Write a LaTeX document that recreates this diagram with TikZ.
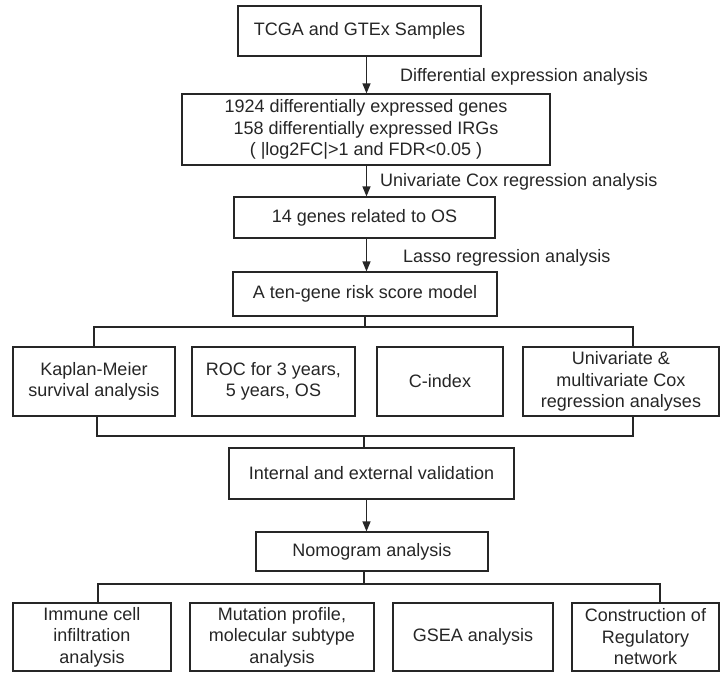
\documentclass[tikz,border=0pt]{standalone}
\usepackage{fontspec}
\setmainfont{Liberation Sans}
\usetikzlibrary{arrows.meta}
\begin{document}
\begin{tikzpicture}[x=1pt,y=-1pt,
  every node/.style={font=\fontsize{18}{21.5}\selectfont, text=black!85},
  box/.style={draw=black!85, line width=1.2pt, fill=white, inner sep=0pt, align=center},
  lab/.style={anchor=west, inner sep=0pt},
  conn/.style={draw=black!85, line width=1.2pt},
  arr/.style={conn, -{Triangle[width=8pt,length=10pt]}}]
\useasboundingbox (0,0) rectangle (720,673);
% main column
\node[box, minimum width=243pt, minimum height=50pt] (b1) at (359.5,31) {TCGA and GTEx Samples};
\node[box, minimum width=368pt, minimum height=71pt] (b2) at (366,129.5) {1924 differentially expressed genes\\158 differentially expressed IRGs\\( |log2FC|>1 and FDR<0.05 )};
\node[box, minimum width=261pt, minimum height=41pt] (b3) at (364.5,217.5) {14 genes related to OS};
\node[box, minimum width=264pt, minimum height=44pt] (b4) at (365,294) {A ten-gene risk score model};
% first row
\node[box, minimum width=162pt, minimum height=69pt] (r1) at (94,381.5) {Kaplan-Meier\\survival analysis};
\node[box, minimum width=163pt, minimum height=69pt] (r2) at (273.5,381.5) {ROC for 3 years,\\5 years, OS};
\node[box, minimum width=126pt, minimum height=69pt] (r3) at (440,381.5) {C-index};
\node[box, minimum width=196pt, minimum height=69pt] (r4) at (621,381.5) {Univariate \&\\multivariate Cox\\regression analyses};
% validation and nomogram
\node[box, minimum width=285pt, minimum height=51pt] (b5) at (371.5,473.5) {Internal and external validation};
\node[box, minimum width=232pt, minimum height=39pt] (b6) at (372,551.5) {Nomogram analysis};
% second row
\node[box, minimum width=158pt, minimum height=68pt] (s1) at (92,637) {Immune cell\\infiltration\\analysis};
\node[box, minimum width=184pt, minimum height=68pt] (s2) at (282,637) {Mutation profile,\\molecular subtype\\analysis};
\node[box, minimum width=160pt, minimum height=68pt] (s3) at (473,637) {GSEA analysis};
\node[box, minimum width=147pt, minimum height=68pt] (s4) at (645.5,637) {Construction of\\Regulatory\\network};
% labels
\node[lab] (l1) at (400,77) {Differential expression analysis};
\node[lab] (l2) at (380,182) {Univariate Cox regression analysis};
\node[lab] (l3) at (403,258) {Lasso regression analysis};
% connector coordinates
\coordinate (ax) at (366.5,0);
\coordinate (j1) at (365,327);
\coordinate (jl1) at (94,327);
\coordinate (jr1) at (633,327);
\coordinate (j2) at (364,436);
\coordinate (jl2) at (97,436);
\coordinate (jr2) at (633,436);
\coordinate (j3) at (364,584);
\coordinate (jl3) at (98,584);
\coordinate (jr3) at (660,584);
% arrows
\draw[arr] (b1.south -| ax) -- (b2.north -| ax);
\draw[arr] (b2.south -| ax) -- (b3.north -| ax);
\draw[arr] (b3.south -| ax) -- (b4.north -| ax);
\draw[arr] (b5.south -| ax) -- (b6.north -| ax);
% tree 1
\draw[conn] (b4.south -| j1) -- (j1);
\draw[conn] (r1.north -| jl1) -- (jl1) -- (jr1) -- (r4.north -| jr1);
% merge
\draw[conn] (r1.south -| jl2) -- (jl2) -- (jr2) -- (r4.south -| jr2);
\draw[conn] (j2) -- (b5.north -| j2);
% tree 2
\draw[conn] (b6.south -| j3) -- (j3);
\draw[conn] (s1.north -| jl3) -- (jl3) -- (jr3) -- (s4.north -| jr3);
\end{tikzpicture}
\end{document}
